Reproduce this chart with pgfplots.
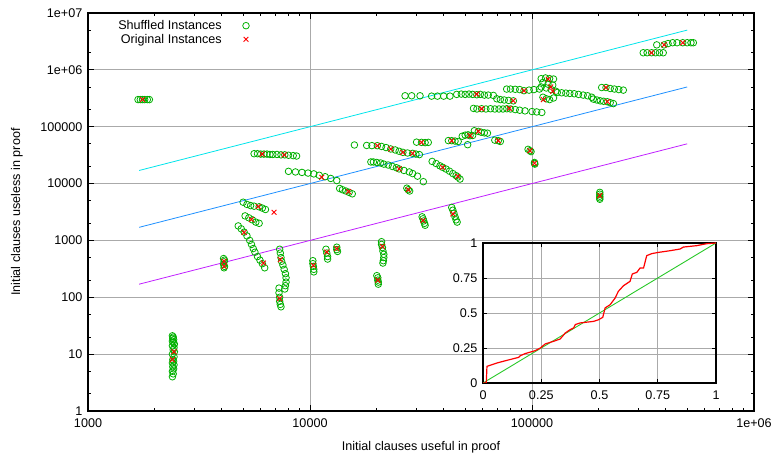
\documentclass[border=0pt]{standalone}
\usepackage{pgfplots}
\pgfplotsset{compat=1.18}
\usepackage{fontspec}
\setmainfont{Liberation Sans}
\definecolor{cgreen}{RGB}{0,176,0}
\definecolor{cred}{RGB}{255,0,0}
\definecolor{ccyan}{RGB}{0,228,235}
\definecolor{cblue}{RGB}{30,144,255}
\definecolor{cpurple}{RGB}{192,32,255}
\definecolor{cgrid}{RGB}{170,170,170}
\definecolor{cinsetgreen}{RGB}{40,200,40}
\begin{document}
\begin{tikzpicture}[font=\fontsize{12.6}{15}\selectfont]
\useasboundingbox (0,0) rectangle (776pt,460pt);
\begin{axis}[
  at={(88pt,49pt)}, anchor=south west,
  width=666pt, height=398pt, scale only axis,
  xmode=log, ymode=log,
  xmin=1000, xmax=1000000, ymin=1, ymax=10000000,
  xtick={1000,10000,100000,1000000},
  xticklabels={1000,10000,100000,1e+06},
  ytick={1,10,100,1000,10000,100000,1000000,10000000},
  yticklabels={1,10,100,1000,10000,100000,1e+06,1e+07},
  minor xtick={2000,3000,4000,5000,6000,7000,8000,9000,20000,30000,40000,50000,60000,70000,80000,90000,200000,300000,400000,500000,600000,700000,800000,900000},
  minor ytick={2,5,20,50,200,500,2000,5000,20000,50000,200000,500000,2000000,5000000},
  grid=major,
  major grid style={cgrid, line width=0.9pt},
  tick align=inside,
  major tick length=6pt, minor tick length=3.5pt,
  tick style={black, line width=0.8pt},
  axis line style={line width=1.3pt},
  xticklabel style={inner sep=1pt, yshift=-7pt},
  yticklabel style={inner sep=1pt, xshift=-4.5pt},
  xlabel={Initial clauses useful in proof},
  ylabel={Initial clauses useless in proof},
  every axis x label/.style={at={(axis description cs:0.5,-0.0905)},anchor=center},
  every axis y label/.style={at={(axis description cs:-0.107,0.5)},rotate=90,anchor=center},
  legend plot pos=right,
  legend cell align=right,
  legend style={draw=none, fill=none, at={(axis description cs:0.247,0.992)}, anchor=north east, row sep=-1pt, column sep=19pt},
]
\addplot[ccyan, line width=0.8pt, forget plot] coordinates {(1700,17000) (500000,5000000)};
\addplot[cblue, line width=0.8pt, forget plot] coordinates {(1700,1700) (500000,500000)};
\addplot[cpurple, line width=0.8pt, forget plot] coordinates {(1700,170) (500000,50000)};

\addplot[only marks, mark=o, mark size=3.3pt, cgreen, line width=0.8pt] coordinates {
(1680,300000)(1720,300000)(1760,300000)(1800,300000)(1850,300000)(1890,300000)
(2400,4)(2420,4.5)(2400,5)(2430,5.5)(2410,6)(2440,6.5)(2400,7)(2430,7.5)(2410,8)(2440,9)(2400,10)(2450,11)(2420,12)(2440,13)(2400,14)(2450,15)(2420,16)(2400,17)(2430,18)(2410,19)(2420,20)(2400,21)
(4080,480)(4120,450)(4100,420)(4080,380)(4120,350)(4100,330)
(5600,33500)(5800,33500)(6000,33000)(6200,33000)(6400,33000)(6600,32500)(6800,32500)(7100,32500)(7400,32000)(7700,32000)(8000,31500)(8400,31000)(8700,30500)
(8000,16400)(8600,16000)(9200,15700)(9800,15300)(10400,14800)(11000,14000)(11700,13200)(12400,12300)(13200,11300)
(13600,8200)(14000,7800)(14500,7400)(15000,7000)(15500,6600)
(5000,4700)(5200,4300)(5400,4100)(5600,4000)(5900,3900)(6100,3700)(6300,3500)
(5100,2700)(5300,2500)(5500,2300)(5700,2100)(5900,2000)
(4750,1800)(4900,1600)(5050,1400)(5200,1200)(5350,1000)(5450,850)(5550,720)(5650,620)(5800,520)(5950,450)(6100,390)(6250,330)
(7300,700)(7350,600)(7400,500)(7450,430)(7550,370)(7650,310)(7750,260)(7800,220)(7800,185)(7750,160)(7700,140)
(7250,145)(7250,120)(7300,100)(7300,85)(7350,75)(7400,68)
(10300,440)(10300,390)(10350,350)(10400,310)(10400,280)
(11800,700)(11900,600)(12000,520)(12000,470)
(13200,760)(13200,690)(13300,640)
(21000,950)(21000,850)(21200,750)(21300,650)(21500,570)(21500,500)(21400,440)(21300,400)
(20000,240)(20200,220)(20200,200)(20300,185)(20300,170)
(32000,2600)(32300,2400)(32500,2200)(32800,2000)(33000,1850)
(43500,3800)(44000,3400)(44500,3000)(45000,2600)(45500,2300)(46000,2100)
(27300,8300)(27700,7800)(28100,7400)
(26800,350000)(28700,350000)(31300,350000)(35300,345000)(37500,345000)(40000,345000)(42700,345000)(45800,370000)(48000,375000)(50000,370000)(52000,375000)(54000,370000)(56400,365000)(58500,370000)(61000,360000)(63500,360000)(67000,355000)
(69400,310000)(72000,300000)(75000,295000)(78500,290000)(82400,285000)
(54500,210000)(56500,205000)(59300,207000)(62000,205000)(65000,207000)(68000,205000)(71000,205000)(74000,205000)(77000,207000)(80000,205000)(84000,200000)(88000,195000)(93000,190000)(100000,185000)(105000,182000)(110700,178000)
(76900,459000)(80000,460000)(84000,455000)(88000,450000)(92000,430000)(97000,440000)(102000,450000)(108000,460000)
(110000,700000)(115000,720000)(120000,700000)(125000,690000)(112000,600000)(118000,560000)(124000,540000)(110000,500000)(116000,480000)(122000,450000)(128000,420000)(112000,330000)(116000,310000)(120000,300000)(125000,320000)
(130000,400000)(136000,395000)(142000,390000)(148000,385000)(155000,380000)(162000,370000)(170000,360000)(178000,350000)(185800,330000)
(188900,306000)(196000,295000)(203000,285000)(210000,280000)(218500,275000)(225000,265000)(232500,255000)
(206000,489000)(215400,489000)(225000,470000)(235000,460000)(246000,450000)(257800,440000)
(317000,2000000)(330000,2000000)(345700,2000000)(360000,2000000)(375000,2000000)(390000,2000000)
(364600,2750000)(393500,2750000)(410000,2900000)(430000,3000000)(450000,3000000)(477500,3000000)(500000,3000000)(520000,3000000)(533000,3000000)
(15850,47700)(18000,46800)(19000,46500)(20100,46400)(21000,45000)(22000,43000)(23100,40600)(24200,39000)(25200,37000)(26200,35400)(27500,34500)(29000,34000)(30000,33000)(31100,32300)
(18800,24000)(19300,24000)(20000,23500)(20800,23000)(21500,22000)(22500,21200)(23500,20000)(24500,19000)(25200,18100)(26500,17000)(28000,16000)(29000,15000)(30500,13500)(32400,10800)
(35500,24500)(37000,22500)(38500,20500)(39600,19300)(41000,18000)(42500,16500)(44000,15000)(45500,13800)(46300,13000)(47400,12000)
(30200,53500)(31800,53000)(33000,52500)(34100,53000)
(42000,57000)(43500,56800)(45000,56000)(46500,55000)
(48500,68000)(50000,71000)(51500,72000)(52600,69500)(54000,70000)(51300,48300)
(55000,85000)(57300,82700)(59000,80000)(61000,78000)(63000,77000)
(68000,58000)(70500,56800)(72000,55000)
(96000,40000)(97900,37900)(99000,36500)
(102600,23500)(102600,22700)(103000,22000)
(202000,7000)(202000,6500)(202000,6000)(202000,5600)(202000,5300)
};
\addlegendentry{Shuffled Instances}

\addplot[only marks, mark=x, mark size=3.4pt, cred, line width=0.9pt] coordinates {
(1760,300000)(2440,11)(2400,8)(4100,350)(4100,430)(6080,33000)(7640,32000)(11300,12900)(14900,7240)(5850,3950)(6890,3130)(5450,2340)(5050,1380)(6170,400)(7350,460)(7300,95)(10350,364)(11900,624)(13200,720)(21200,785)(20200,200)(32300,2240)(44000,2930)(27700,7800)
(56400,375000)(82400,286000)(59300,207000)(79000,210000)(92000,430000)(118300,687000)(121400,500000)(124000,420000)(112500,300000)(218500,275000)(215400,489000)(345700,2000000)(393500,2750000)(477500,3000000)
(20100,46400)(23100,40600)(26200,35400)(29000,34000)(25200,18100)(39600,19300)(46300,13400)(31800,53000)(43500,56800)(52600,69500)(57300,82700)(70500,56800)(97900,37900)(102600,22700)(202000,6150)
};
\addlegendentry{Original Instances}
\end{axis}

\begin{axis}[
  at={(483pt,77pt)}, anchor=south west,
  width=233pt, height=140pt, scale only axis,
  xmin=0, xmax=1, ymin=0, ymax=1,
  xtick={0,0.25,0.5,0.75,1}, xticklabels={0,0.25,0.5,0.75,1},
  ytick={0,0.25,0.5,0.75,1}, yticklabels={0,0.25,0.5,0.75,1},
  grid=major,
  major grid style={cgrid, line width=0.9pt},
  tick align=inside,
  major tick length=4pt,
  tick style={black, line width=0.8pt},
  axis line style={line width=1.3pt},
  xticklabel style={inner sep=1pt, yshift=-7pt},
  yticklabel style={inner sep=1pt, xshift=-4.5pt},
]
\addplot[cinsetgreen, line width=0.9pt] coordinates {(0,0) (1,1)};
\addplot[cred, line width=1.2pt] coordinates {
(0,0)(0.014,0)(0.017,0.119)(0.06,0.143)(0.103,0.162)(0.153,0.183)(0.16,0.195)(0.181,0.21)(0.224,0.231)(0.246,0.25)(0.267,0.279)(0.303,0.298)(0.331,0.314)(0.353,0.357)(0.374,0.381)(0.389,0.393)(0.396,0.417)(0.417,0.429)(0.474,0.44)(0.496,0.452)(0.514,0.469)(0.524,0.536)(0.546,0.56)(0.567,0.607)(0.581,0.655)(0.603,0.695)(0.631,0.726)(0.641,0.779)(0.66,0.79)(0.674,0.821)(0.689,0.821)(0.7,0.893)(0.703,0.91)(0.724,0.924)(0.753,0.933)(0.803,0.945)(0.846,0.957)(0.86,0.971)(0.917,0.981)(0.96,0.995)(1,1)
};
\end{axis}
\end{tikzpicture}
\end{document}
